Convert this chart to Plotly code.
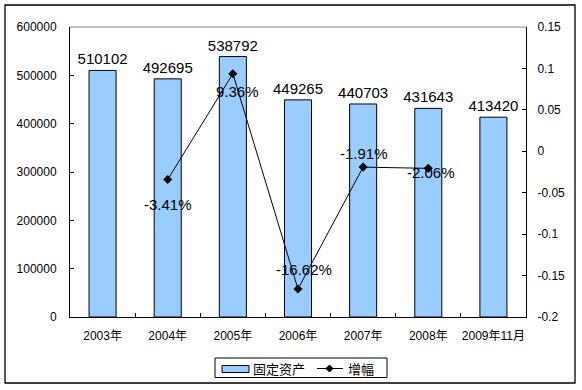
import plotly.graph_objects as go

categories = ["2003年", "2004年", "2005年", "2006年", "2007年", "2008年", "2009年11月"]
fixed_assets = [510102, 492695, 538792, 449265, 440703, 431643, 413420]
growth_categories = ["2004年", "2005年", "2006年", "2007年", "2008年"]
growth = [-0.0341, 0.0936, -0.1662, -0.0191, -0.0206]
growth_labels = ["-3.41%", "9.36%", "-16.62%", "-1.91%", "-2.06%"]
y1_ticks = [0, 100000, 200000, 300000, 400000, 500000, 600000]
y2_ticks = [-0.2, -0.15, -0.1, -0.05, 0, 0.05, 0.1, 0.15]
y2_ticktext = ["-0.2", "-0.15", "-0.1", "-0.05", "0", "0.05", "0.1", "0.15"]
legend_names = ["固定资产", "增幅"]

FONT = "Liberation Sans, Arial, Noto Sans CJK SC, sans-serif"
CJK = "Noto Sans CJK SC, Liberation Sans, sans-serif"

# label offsets (pixels) for growth labels
label_shift = [(0, -25), (5, -18), (6, 19), (1, 14), (3, -4)]

fig = go.Figure()
fig.add_trace(go.Bar(
    x=categories, y=fixed_assets, name=legend_names[0],
    marker=dict(color="#99CCFF", line=dict(color="black", width=1)),
    text=[str(v) for v in fixed_assets], textposition="outside",
    constraintext="none",
    textfont=dict(family=FONT, size=15, color="black"),
    cliponaxis=False, showlegend=False,
))
fig.add_trace(go.Scatter(
    x=growth_categories, y=growth, name=legend_names[1], yaxis="y2",
    mode="lines+markers",
    line=dict(color="black", width=1),
    marker=dict(symbol="diamond", size=7, color="black"),
    showlegend=False,
))

annotations = []
for c, v, t, (dx, dy) in zip(growth_categories, growth, growth_labels, label_shift):
    annotations.append(dict(x=c, y=v, xref="x", yref="y2", text=t, showarrow=False,
                            xshift=dx, yshift=dy,
                            font=dict(family=FONT, size=15, color="black")))

# manual legend (pixel -> paper helpers)
def px(x):
    return (x - 70) / 456.0

def py(y):
    return (317 - y) / 290.0

annotations.append(dict(x=px(251), y=py(368), xref="paper", yref="paper", text=legend_names[0],
                        showarrow=False, xanchor="left", yanchor="middle",
                        font=dict(family=CJK, size=13, color="black")))
annotations.append(dict(x=px(346), y=py(368), xref="paper", yref="paper", text=legend_names[1],
                        showarrow=False, xanchor="left", yanchor="middle",
                        font=dict(family=CJK, size=13, color="black")))

cx, cy = px(329.5), py(368.5)
ddx, ddy = 3.5 / 456.0, 3.5 / 290.0
diamond = f"M {cx-ddx},{cy} L {cx},{cy+ddy} L {cx+ddx},{cy} L {cx},{cy-ddy} Z"

shapes = [
    dict(type="line", xref="paper", yref="paper", x0=0, x1=1, y0=1, y1=1,
         line=dict(color="#808080", width=1)),
    dict(type="rect", xref="paper", yref="paper",
         x0=px(5), x1=px(575), y0=py(383), y1=py(5),
         line=dict(color="black", width=1.3)),
    dict(type="rect", xref="paper", yref="paper",
         x0=px(215), x1=px(387), y0=py(377.5), y1=py(358),
         line=dict(color="black", width=1), fillcolor="white", layer="below"),
    dict(type="rect", xref="paper", yref="paper",
         x0=px(222), x1=px(249), y0=py(372.5), y1=py(365.5),
         line=dict(color="black", width=1), fillcolor="#99CCFF"),
    dict(type="line", xref="paper", yref="paper",
         x0=px(317), x1=px(343), y0=py(368.5), y1=py(368.5),
         line=dict(color="black", width=1)),
    dict(type="path", xref="paper", yref="paper", path=diamond,
         fillcolor="black", line=dict(color="black", width=1)),
]

fig.update_layout(
    width=582, height=390,
    margin=dict(l=70, r=56, t=27, b=73, autoexpand=False),
    paper_bgcolor="white", plot_bgcolor="white",
    font=dict(family=FONT, size=12, color="black"),
    bargap=0.585,
    showlegend=False,
    xaxis=dict(type="category", range=[-0.5, 6.5], showline=True, linecolor="black",
               linewidth=1, ticks="inside", tickson="boundaries", ticklen=4,
               tickcolor="black", showgrid=False, tickangle=0, automargin=False,
               tickfont=dict(family=FONT, size=12), ticklabelstandoff=8),
    yaxis=dict(range=[0, 600000], tickvals=y1_ticks, tickformat="d", showline=True,
               linecolor="black", linewidth=1, ticks="inside", ticklen=4,
               tickcolor="black", showgrid=False, zeroline=False, automargin=False,
               tickfont=dict(size=12), ticklabelstandoff=10),
    yaxis2=dict(range=[-0.2, 0.15], overlaying="y", side="right", tickvals=y2_ticks,
                ticktext=y2_ticktext, showline=True, linecolor="black", linewidth=1,
                ticks="inside", ticklen=4, tickcolor="black", showgrid=False,
                zeroline=False, automargin=False,
                tickfont=dict(size=12), ticklabelstandoff=8),
    annotations=annotations,
    shapes=shapes,
)

fig.write_html("out.html", config={"displayModeBar": False},
               post_script="document.body.style.margin='0';document.body.style.padding='0';")
